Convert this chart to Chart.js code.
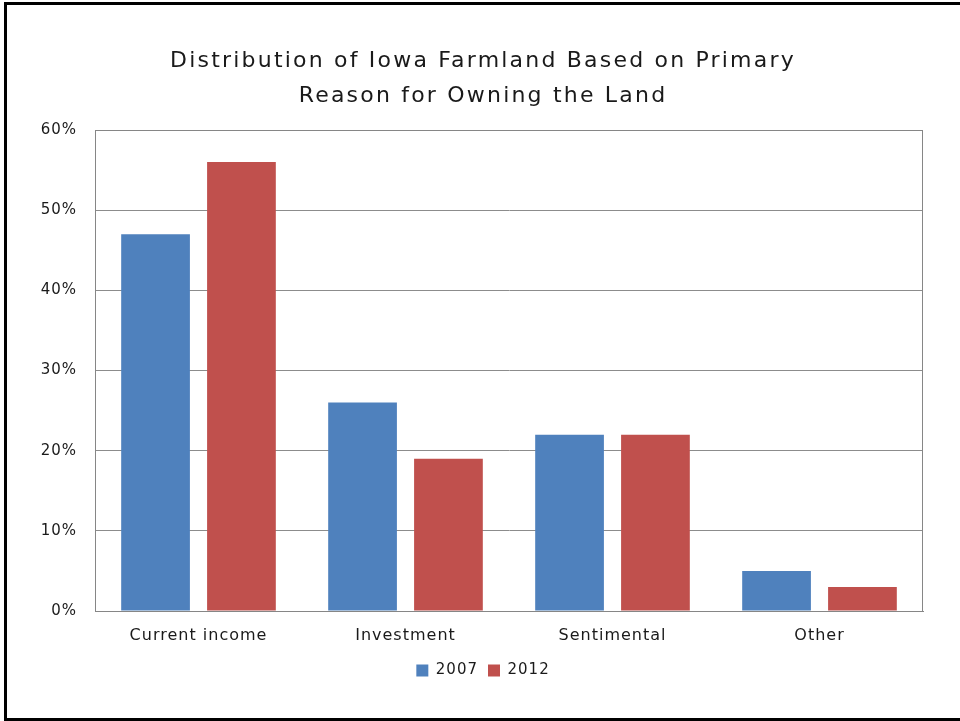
<!DOCTYPE html>
<html>
<head>
<meta charset="utf-8">
<script src="https://cdn.jsdelivr.net/npm/chart.js@4.4.1/dist/chart.umd.min.js"></script>
<style>
  html, body { margin: 0; padding: 0; background: #fff; overflow: hidden; }
  #wrap { position: relative; width: 960px; height: 721px; }
  #frame {
    position: absolute; left: 4px; top: 2px; width: 1000px; height: 719px;
    box-sizing: border-box; border: 3px solid #000; border-right: none;
    pointer-events: none;
  }
</style>
</head>
<body>
<div id="wrap">
  <canvas id="bar-chart" width="960" height="721"></canvas>
  <div id="frame"></div>
</div>
<script>
var categories = ['Current income', 'Investment', 'Sentimental', 'Other'];
var share2007 = [47, 26, 22, 5];
var share2012 = [56, 19, 22, 3];
var titleLines = ['Distribution of Iowa Farmland Based on Primary', 'Reason for Owning the Land'];

Chart.defaults.font.family = "'DejaVu Sans', sans-serif";
Chart.defaults.color = '#1a1a1a';

// wider letter spacing for all text on the canvas
var spacing = {
  id: 'spacing',
  beforeLayout: function (chart) { chart.ctx.letterSpacing = '1px'; },
  beforeDraw: function (chart) { chart.ctx.letterSpacing = '1px'; }
};

// box round the plot area
var plotFrame = {
  id: 'plotFrame',
  afterDraw: function (chart) {
    var a = chart.chartArea, ctx = chart.ctx;
    ctx.save();
    ctx.strokeStyle = '#868686';
    ctx.lineWidth = 1;
    ctx.strokeRect(Math.round(a.left) + 0.5, Math.round(a.top) + 0.5,
      Math.round(a.right - a.left) - 1, Math.round(a.bottom - a.top));
    ctx.restore();
  }
};

var ctx = document.getElementById('bar-chart').getContext('2d');
var chart = new Chart(ctx, {
  type: 'bar',
  data: {
    labels: categories,
    datasets: [{
      label: '2007',
      backgroundColor: '#4F81BD',
      data: share2007
    }, {
      label: '2012',
      backgroundColor: '#C0504D',
      data: share2012
    }]
  },
  options: {
    responsive: false,
    animation: false,
    categoryPercentage: 0.83,
    barPercentage: 0.8,
    layout: { padding: { left: 6, right: 0, top: 0, bottom: 33 } },
    plugins: {
      title: {
        display: true,
        text: titleLines,
        font: { size: 22, weight: 'normal', lineHeight: 1.58 },
        color: '#1a1a1a',
        padding: { top: 44, bottom: 16.5 }
      },
      legend: {
        position: 'bottom',
        labels: {
          boxWidth: 12,
          boxHeight: 12,
          padding: 10,
          font: { size: 15 }
        }
      },
      tooltip: { enabled: false }
    },
    scales: {
      x: {
        grid: { display: false, drawTicks: false },
        border: { color: '#868686' },
        ticks: { padding: 15, font: { size: 16 } },
        afterFit: function (scale) { scale.height = 42; }
      },
      y: {
        min: 0,
        max: 60,
        grid: { color: '#8c8c8c', drawTicks: false },
        border: { color: '#868686' },
        ticks: {
          stepSize: 10,
          padding: 18,
          font: { size: 15 },
          callback: function (v) { return v + '%'; }
        },
        afterFit: function (scale) { scale.width = 89; }
      },
      // empty margin on the right of the plot
      right: {
        position: 'right',
        grid: { display: false },
        border: { display: false },
        ticks: { display: false },
        afterFit: function (scale) { scale.width = 37; }
      }
    }
  },
  plugins: [spacing, plotFrame]
});

// title gets its own, wider spacing
var title = chart.titleBlock;
var drawTitle = title.draw;
title.draw = function () {
  var c = this.ctx;
  c.save();
  c.letterSpacing = '2.2px';
  drawTitle.apply(this, arguments);
  c.restore();
};
chart.draw();
</script>
</body>
</html>
